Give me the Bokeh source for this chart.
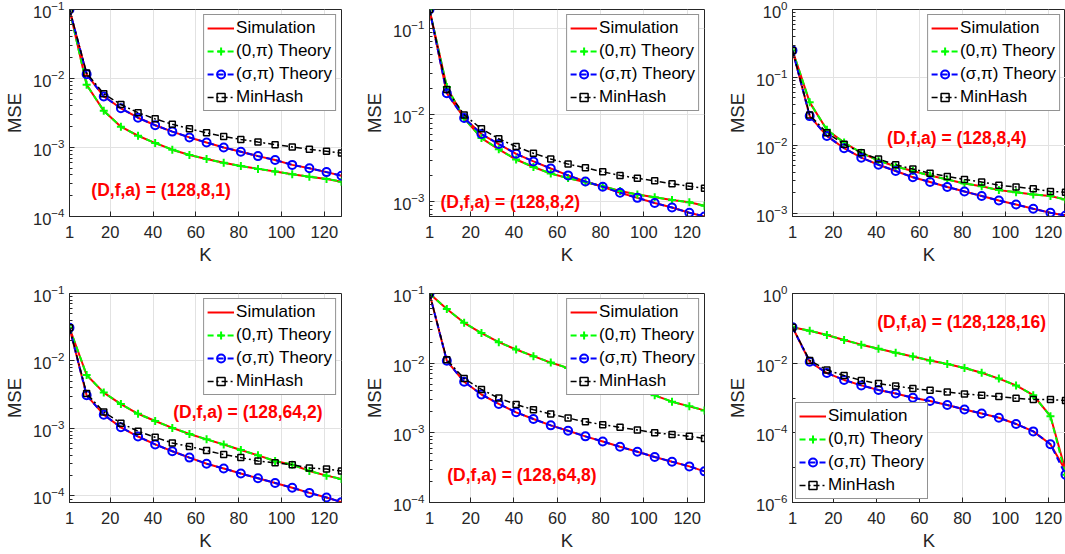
from bokeh.plotting import figure
from bokeh.layouts import column, row
from bokeh.models import (FixedTicker, LogTickFormatter, Range1d, Legend,
                          LegendItem, Label)
from bokeh.embed import file_html
from bokeh.resources import INLINE

FONT = "Liberation Sans"
TXT = "#262626"
GRID = "#e2e2e2"

# ---------------- data ----------------
K = [1, 9, 17, 25, 33, 41, 49, 57, 65, 73, 81, 89, 97, 105, 113, 121, 128]

# (D,f,a) = (128,8,1)
th0_1 = [0.1, 8.1e-3, 3.4e-3, 2.0e-3, 1.48e-3, 1.16e-3, 9.3e-4, 7.8e-4, 6.8e-4, 6.0e-4,
         5.4e-4, 4.9e-4, 4.5e-4, 4.1e-4, 3.76e-4, 3.5e-4, 3.2e-4]
thS_1 = [0.1, 1.15e-2, 5.5e-3, 3.7e-3, 2.7e-3, 2.1e-3, 1.7e-3, 1.4e-3, 1.18e-3, 1.0e-3,
         8.7e-4, 7.5e-4, 6.6e-4, 5.6e-4, 5.0e-4, 4.4e-4, 3.9e-4]
mh_1 = [0.1, 1.2e-2, 6.0e-3, 4.2e-3, 3.2e-3, 2.6e-3, 2.17e-3, 1.87e-3, 1.63e-3, 1.44e-3,
        1.31e-3, 1.2e-3, 1.1e-3, 1.02e-3, 9.4e-4, 8.8e-4, 8.3e-4]

# (D,f,a) = (128,8,2)
th0_2 = [0.165, 0.021, 9.1e-3, 5.4e-3, 4.0e-3, 3.05e-3, 2.5e-3, 2.1e-3, 1.86e-3, 1.67e-3,
         1.5e-3, 1.32e-3, 1.2e-3, 1.12e-3, 1.04e-3, 9.8e-4, 8.9e-4]
thS_2 = [0.165, 0.0178, 9.2e-3, 6.0e-3, 4.6e-3, 3.55e-3, 2.9e-3, 2.4e-3, 2.0e-3, 1.7e-3,
         1.48e-3, 1.26e-3, 1.1e-3, 9.6e-4, 8.5e-4, 7.4e-4, 6.7e-4]
mh_2 = [0.165, 0.0196, 1.0e-2, 6.9e-3, 5.3e-3, 4.3e-3, 3.6e-3, 3.1e-3, 2.7e-3, 2.45e-3,
        2.2e-3, 2.0e-3, 1.85e-3, 1.73e-3, 1.6e-3, 1.5e-3, 1.42e-3]

# (D,f,a) = (128,8,4)
th0_3 = [0.25, 0.043, 0.017, 0.011, 7.8e-3, 6.0e-3, 4.9e-3, 4.2e-3, 3.6e-3, 3.15e-3,
         2.76e-3, 2.5e-3, 2.2e-3, 2.05e-3, 1.9e-3, 1.8e-3, 1.6e-3]
thS_3 = [0.25, 0.027, 0.0138, 9.1e-3, 6.6e-3, 5.2e-3, 4.2e-3, 3.4e-3, 2.9e-3, 2.45e-3,
         2.1e-3, 1.8e-3, 1.55e-3, 1.35e-3, 1.17e-3, 1.02e-3, 9.3e-4]
mh_3 = [0.25, 0.028, 0.0153, 0.0104, 7.8e-3, 6.3e-3, 5.2e-3, 4.5e-3, 3.9e-3, 3.5e-3,
        3.15e-3, 2.9e-3, 2.6e-3, 2.45e-3, 2.3e-3, 2.1e-3, 2.05e-3]

# (D,f,a) = (128,64,2)
th0_4 = [0.031, 6.2e-3, 3.4e-3, 2.3e-3, 1.65e-3, 1.29e-3, 1.02e-3, 8.3e-4, 6.9e-4, 5.8e-4,
         4.8e-4, 4.0e-4, 3.3e-4, 2.9e-4, 2.35e-4, 2.0e-4, 1.78e-4]
thS_4 = [0.031, 3.1e-3, 1.6e-3, 1.04e-3, 7.6e-4, 5.8e-4, 4.6e-4, 3.7e-4, 3.0e-4, 2.55e-4,
         2.15e-4, 1.83e-4, 1.56e-4, 1.32e-4, 1.11e-4, 9.5e-5, 8.1e-5]
mh_4 = [0.031, 3.3e-3, 1.75e-3, 1.2e-3, 9.1e-4, 7.4e-4, 6.1e-4, 5.4e-4, 4.7e-4, 4.1e-4,
        3.7e-4, 3.3e-4, 3.1e-4, 2.9e-4, 2.6e-4, 2.5e-4, 2.35e-4]

# (D,f,a) = (128,64,8)
th0_5 = [0.1, 0.060, 0.038, 0.027, 0.020, 0.0157, 0.0126, 0.0102, 8.5e-3, 7.1e-3,
         5.9e-3, 5.0e-3, 4.1e-3, 3.45e-3, 2.8e-3, 2.4e-3, 2.1e-3]
thS_5 = [0.1, 0.0108, 5.4e-3, 3.55e-3, 2.6e-3, 1.97e-3, 1.58e-3, 1.28e-3, 1.07e-3, 8.9e-4,
         7.5e-4, 6.3e-4, 5.35e-4, 4.5e-4, 3.85e-4, 3.3e-4, 2.8e-4]
mh_5 = [0.1, 0.0112, 6.0e-3, 4.2e-3, 3.15e-3, 2.55e-3, 2.15e-3, 1.86e-3, 1.63e-3, 1.44e-3,
        1.31e-3, 1.2e-3, 1.1e-3, 1.0e-3, 9.5e-4, 8.9e-4, 8.3e-4]

# (D,f,a) = (128,128,16)
th0_6 = [0.107, 0.085, 0.064, 0.046, 0.034, 0.026, 0.020, 0.0156, 0.012, 9.5e-3,
         7.3e-3, 5.3e-3, 3.6e-3, 2.3e-3, 1.2e-3, 3.0e-4, 6.3e-6]
thS_6 = [0.107, 0.011, 5.2e-3, 3.3e-3, 2.3e-3, 1.7e-3, 1.34e-3, 1.02e-3, 8.2e-4, 6.3e-4,
         4.7e-4, 3.6e-4, 2.7e-4, 1.8e-4, 1.1e-4, 4.7e-5, 6.3e-6]
mh_6 = [0.107, 0.012, 6.4e-3, 4.4e-3, 3.2e-3, 2.6e-3, 2.2e-3, 1.87e-3, 1.66e-3, 1.48e-3,
        1.31e-3, 1.2e-3, 1.1e-3, 9.8e-4, 9.1e-4, 9.0e-4, 8.5e-4]
sim0_6 = th0_6[:-1] + [8.3e-6]
simS_6 = thS_6[:-1] + [8.3e-6]

x_ticks = [1, 20, 40, 60, 80, 100, 120]
series_labels = ["Simulation", "(0,\u03c0) Theory", "(\u03c3,\u03c0) Theory", "MinHash"]

panels = [
    dict(th0=th0_1, thS=thS_1, mh=mh_1, sim0=th0_1, simS=thS_1, ylim=(1e-4, 1e-1),
         yt=[1e-4, 1e-3, 1e-2, 1e-1], note="(D,f,a) = (128,8,1)", nx=11.2, ny=2.4e-4,
         loc="top_right", lm=5),
    dict(th0=th0_2, thS=thS_2, mh=mh_2, sim0=th0_2, simS=thS_2, ylim=(6.7e-4, 0.165),
         yt=[1e-3, 1e-2, 1e-1], note="(D,f,a) = (128,8,2)", nx=6.1, ny=9.8e-4,
         loc="top_right", lm=5),
    dict(th0=th0_3, thS=thS_3, mh=mh_3, sim0=th0_3, simS=thS_3, ylim=(9.0e-4, 1.0),
         yt=[1e-3, 1e-2, 1e-1, 1.0], note="(D,f,a) = (128,8,4)", nx=45.0, ny=0.0127,
         loc="top_right", lm=5),
    dict(th0=th0_4, thS=thS_4, mh=mh_4, sim0=th0_4, simS=thS_4, ylim=(8.0e-5, 1e-1),
         yt=[1e-4, 1e-3, 1e-2, 1e-1], note="(D,f,a) = (128,64,2)", nx=49.4, ny=1.75e-3,
         loc="top_right", lm=5),
    dict(th0=th0_5, thS=thS_5, mh=mh_5, sim0=th0_5, simS=thS_5, ylim=(1e-4, 1e-1),
         yt=[1e-4, 1e-3, 1e-2, 1e-1], note="(D,f,a) = (128,64,8)", nx=9.2, ny=2.5e-4,
         loc="top_right", lm=5),
    dict(th0=th0_6, thS=thS_6, mh=mh_6, sim0=sim0_6, simS=simS_6, ylim=(1e-6, 1.0),
         yt=[1e-6, 1e-4, 1e-2, 1.0], note="(D,f,a) = (128,128,16)", nx=40.4, ny=0.156,
         loc="bottom_left", lm=3),
]


def minor_list(lo, hi, step):
    out = []
    for e in range(-7, 2):
        if step == 1:
            for k in range(2, 10):
                v = k * 10.0 ** e
                if lo <= v <= hi:
                    out.append(v)
        else:
            v = 10.0 ** e
            if lo <= v <= hi:
                out.append(v)
    return out


def make(pan, width, height, bl, br, bt, bb):
    p = figure(width=width, height=height, y_axis_type="log",
               x_range=Range1d(1, 128), y_range=Range1d(*pan["ylim"]),
               output_backend="svg", toolbar_location=None,
               min_border_left=bl, min_border_right=br,
               min_border_top=bt, min_border_bottom=bb)
    p.background_fill_color = "white"
    p.border_fill_color = "white"
    p.outline_line_color = TXT
    p.outline_line_width = 1

    p.xgrid.grid_line_color = GRID
    p.ygrid.grid_line_color = GRID

    xa = p.xaxis[0]
    xa.ticker = FixedTicker(ticks=x_ticks)
    xa.axis_label = "K"
    ya = p.yaxis[0]
    step = 2 if pan["yt"][1] / pan["yt"][0] > 50 else 1
    ya.ticker = FixedTicker(ticks=pan["yt"],
                            minor_ticks=minor_list(pan["ylim"][0], pan["ylim"][1], step))
    ya.formatter = LogTickFormatter(min_exponent=0)
    ya.axis_label = "MSE"
    for ax in (xa, ya):
        ax.axis_line_color = TXT
        ax.major_tick_line_color = TXT
        ax.minor_tick_line_color = TXT
        ax.major_tick_in = 5
        ax.major_tick_out = 0
        ax.minor_tick_in = 3
        ax.minor_tick_out = 0
        ax.major_label_text_font = FONT
        ax.major_label_text_font_size = "16.5px"
        ax.major_label_text_color = TXT
        ax.axis_label_text_font = FONT
        ax.axis_label_text_font_size = "18.5px"
        ax.axis_label_text_font_style = "normal"
        ax.axis_label_text_color = TXT
    xa.minor_tick_line_color = None
    xa.major_label_standoff = 9
    xa.axis_label_standoff = 3
    ya.major_label_standoff = 5
    ya.axis_label_standoff = 5

    r_s0 = p.line(K, pan["sim0"], line_color="#ff0000", line_width=2)
    p.line(K, pan["simS"], line_color="#ff0000", line_width=2)
    l0 = p.line(K, pan["th0"], line_color="#00ff00", line_width=2, line_dash="6 4")
    s0 = p.scatter(K, pan["th0"], marker="cross", size=8, line_color="#00ff00",
                   line_width=2)
    lS = p.line(K, pan["thS"], line_color="#0000ff", line_width=2, line_dash="6 4")
    sS = p.scatter(K, pan["thS"], marker="circle", size=8, line_color="#0000ff",
                   fill_color=None, line_width=2)
    lM = p.line(K, pan["mh"], line_color="#000000", line_width=1.5, line_dash="6 3 2 3")
    sM = p.scatter(K, pan["mh"], marker="square", size=6, line_color="#000000",
                   fill_color=None, line_width=1.5)

    p.add_layout(Label(x=pan["nx"], y=pan["ny"], text=pan["note"], text_color="#ff0000",
                       text_font=FONT, text_font_size="17.5px", text_font_style="bold",
                       text_baseline="middle", text_align="left"))

    leg = Legend(items=[LegendItem(label=series_labels[0], renderers=[r_s0]),
                        LegendItem(label=series_labels[1], renderers=[l0, s0]),
                        LegendItem(label=series_labels[2], renderers=[lS, sS]),
                        LegendItem(label=series_labels[3], renderers=[lM, sM])],
                 location=pan["loc"])
    leg.border_line_color = TXT
    leg.border_line_width = 1
    leg.background_fill_color = "white"
    leg.background_fill_alpha = 1
    leg.label_text_font = FONT
    leg.label_text_font_size = "17px"
    leg.label_text_color = "#000000"
    leg.glyph_width = 27
    leg.glyph_height = 20
    leg.label_height = 20
    leg.label_standoff = 2
    leg.spacing = 3
    leg.padding = 3
    leg.margin = pan["lm"]
    p.add_layout(leg)
    return p


f1 = make(panels[0], 360, 280, 68, 19, 9, 64)
f2 = make(panels[1], 354, 280, 69, 10, 9, 64)
f3 = make(panels[2], 351, 280, 78, 0, 9, 64)
f4 = make(panels[3], 360, 274, 68, 19, 13, 52)
f5 = make(panels[4], 354, 274, 69, 10, 13, 52)
f6 = make(panels[5], 351, 274, 78, 0, 13, 52)

layout = column(row(f1, f2, f3), row(f4, f5, f6))

open("out.html", "w").write(file_html(layout, INLINE))
